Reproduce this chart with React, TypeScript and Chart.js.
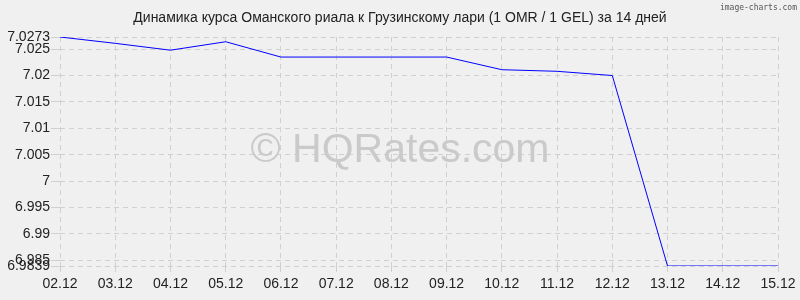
import React, { useEffect, useRef } from "react";
import { Chart, registerables } from "chart.js";

Chart.register(...registerables);

const categories = ["02.12", "03.12", "04.12", "05.12", "06.12", "07.12", "08.12", "09.12", "10.12", "11.12", "12.12", "13.12", "14.12", "15.12"];
const rates = [7.0273, 7.0261, 7.0248, 7.0264, 7.0235, 7.0235, 7.0235, 7.0235, 7.0211, 7.0208, 7.0200, 6.9839, 6.9839, 6.9839];
const yTicks = [6.9839, 6.985, 6.99, 6.995, 7, 7.005, 7.01, 7.015, 7.02, 7.025, 7.0273];
const yMin = 6.9839;
const yMax = 7.0273;
const titleText = "Динамика курса Оманского риала к Грузинскому лари (1 OMR / 1 GEL) за 14 дней";
const watermarkText = "© HQRates.com";
const creditText = "image-charts.com";

const decor = {
  id: "decor",
  beforeDraw(chart: any) {
    const ctx = chart.ctx;
    ctx.save();
    ctx.fillStyle = "#f0f0f0";
    ctx.fillRect(0, 0, chart.width, chart.height);
    ctx.restore();
  },
  beforeDatasetsDraw(chart: any) {
    const ctx = chart.ctx;
    ctx.save();
    ctx.fillStyle = "#cacaca";
    ctx.font = "41px 'Liberation Sans'";
    ctx.textAlign = "center";
    ctx.textBaseline = "alphabetic";
    ctx.fillText(watermarkText, 400, 162);
    ctx.restore();
  },
  afterDraw(chart: any) {
    const ctx = chart.ctx;
    ctx.save();
    ctx.fillStyle = "#222";
    ctx.font = "14px 'Liberation Sans'";
    ctx.textAlign = "center";
    ctx.textBaseline = "middle";
    ctx.fillText(titleText, 400, 18);
    ctx.fillStyle = "#555";
    ctx.font = "8px 'DejaVu Sans Mono'";
    ctx.textAlign = "right";
    ctx.fillText(creditText, 797, 8);
    ctx.restore();
  },
};

export default function App() {
  const ref = useRef<HTMLCanvasElement>(null);
  useEffect(() => {
    document.body.style.margin = "0";
    const chart = new Chart(ref.current!, {
      type: "line",
      data: {
        labels: categories,
        datasets: [
          {
            data: rates,
            borderColor: "#0000ff",
            borderWidth: 1,
            pointRadius: 0,
            tension: 0,
            fill: false,
          },
        ],
      },
      options: {
        animation: false,
        responsive: false,
        maintainAspectRatio: false,
        layout: { padding: { left: 0, right: 22, top: 37, bottom: 0 } },
        plugins: { legend: { display: false }, tooltip: { enabled: false }, title: { display: false } },
        scales: {
          x: {
            offset: false,
            grid: { color: "#d0d0d0", tickLength: 6 },
            border: { display: false, dash: [5, 4] },
            ticks: { color: "#222", font: { family: "'Liberation Sans'", size: 14 }, padding: 4, maxRotation: 0, autoSkip: false },
            afterFit: (s: any) => { s.height = 34; },
          },
          y: {
            min: yMin,
            max: yMax,
            grid: { color: "#d0d0d0", tickLength: 9 },
            border: { display: false, dash: [5, 4] },
            ticks: { color: "#222", font: { family: "'Liberation Sans'", size: 14 }, padding: 1, autoSkip: false, callback: (v: any) => String(v) },
            afterBuildTicks: (s: any) => { s.ticks = yTicks.map((v) => ({ value: v })); },
            afterFit: (s: any) => { s.width = 60; },
          },
        },
      } as any,
      plugins: [decor],
    });
    return () => chart.destroy();
  }, []);
  return (
    <div style={{ position: "absolute", left: 0, top: 0, width: 800, height: 300 }}>
      <canvas ref={ref} width={800} height={300} style={{ width: 800, height: 300 }} />
    </div>
  );
}
